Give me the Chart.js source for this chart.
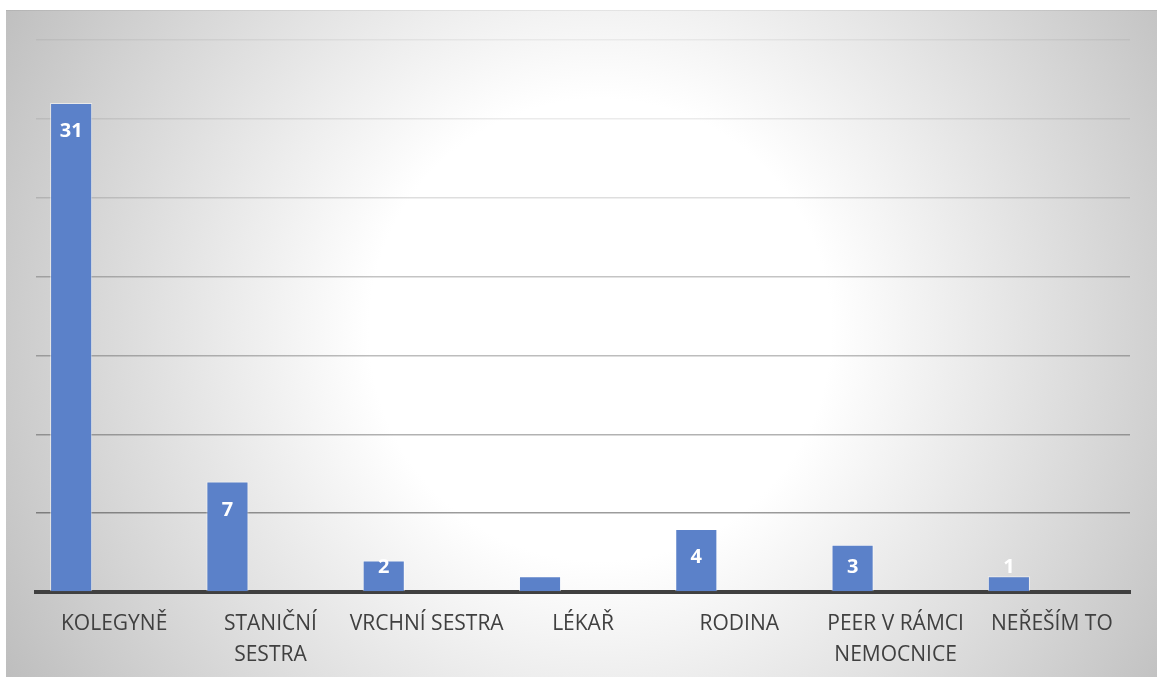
<!DOCTYPE html>
<html lang="cs">
<head>
<meta charset="utf-8">
<title>Komu se svěříte</title>
<script src="https://cdn.jsdelivr.net/npm/chart.js@4/dist/chart.umd.min.js"></script>
<style>
  html, body { margin: 0; padding: 0; background: #ffffff; }
  #wrap { width: 1157px; height: 677px; position: relative; }
</style>
</head>
<body>
<div id="wrap"><canvas id="chart"></canvas></div>
<script>
// Categories (multi-line labels are split into arrays)
const categories = [
  'KOLEGYNĚ',
  ['STANIČNÍ', 'SESTRA'],
  'VRCHNÍ SESTRA',
  'LÉKAŘ',
  'RODINA',
  ['PEER V RÁMCI', 'NEMOCNICE'],
  'NEŘEŠÍM TO'
];
// Number of answers per category
const answers = [31, 7, 2, 1, 4, 3, 1];
// Whether a value label is printed on the bar
const showValue = [true, true, true, false, true, true, true];
// Empty companion series (keeps the bars in the left half of each slot)
const emptySeries = [null, null, null, null, null, null, null];
// Value axis range and gridline step
const yMax = 35;
const yStep = 5;

// Gridline shade per value (darker toward the baseline)
const gridAlpha = { 0: 0, 5: 0.39, 10: 0.30, 15: 0.26, 20: 0.23, 25: 0.13, 30: 0.08, 35: 0.05 };

const FONT = '"Open Sans", "DejaVu Sans", sans-serif';

// Chart background: white page with a radially shaded plot frame
const backgroundPlugin = {
  id: 'frameBackground',
  beforeDraw(chart) {
    const ctx = chart.ctx;
    const w = chart.width, h = chart.height;
    ctx.save();
    ctx.fillStyle = '#ffffff';
    ctx.fillRect(0, 0, w, h);
    const g = ctx.createRadialGradient(600, 330, 0, 600, 330, 700);
    g.addColorStop(0, '#ffffff');
    g.addColorStop(0.33, '#ffffff');
    g.addColorStop(1, '#bcbcbc');
    ctx.fillStyle = g;
    ctx.fillRect(6, 10, w - 6, h - 10);
    ctx.fillStyle = 'rgba(0,0,0,0.06)';
    ctx.fillRect(6, 10, w - 6, 1);
    ctx.restore();
  }
};

// White bold value labels near the top end of each bar
const valueLabelPlugin = {
  id: 'valueLabels',
  afterDraw(chart) {
    const ctx = chart.ctx;
    const meta = chart.getDatasetMeta(0);
    const base = chart.scales.y.getPixelForValue(0);
    ctx.save();
    ctx.font = 'bold 20px ' + FONT;
    ctx.fillStyle = '#ffffff';
    ctx.textAlign = 'center';
    ctx.textBaseline = 'alphabetic';
    meta.data.forEach((bar, i) => {
      if (!showValue[i]) return;
      const y = Math.min(bar.y + 34, base - 19);
      ctx.fillText(String(answers[i]), bar.x, y);
    });
    ctx.restore();
  }
};

new Chart(document.getElementById('chart'), {
  type: 'bar',
  data: {
    labels: categories,
    datasets: [
      {
        data: answers,
        backgroundColor: '#5b81c9',
        borderColor: 'rgba(255,255,255,0.55)',
        borderWidth: 1,
        categoryPercentage: 1.1,
        barPercentage: 0.49
      },
      {
        data: emptySeries,
        backgroundColor: '#ed7d31',
        categoryPercentage: 1.1,
        barPercentage: 0.49
      }
    ]
  },
  options: {
    responsive: true,
    maintainAspectRatio: false,
    animation: false,
    devicePixelRatio: 1,
    layout: { padding: { left: 0, right: 27, top: 40, bottom: 0 } },
    plugins: {
      legend: { display: false },
      tooltip: { enabled: false },
      title: { display: false }
    },
    scales: {
      x: {
        z: 1,
        grid: { display: false, drawTicks: false },
        border: { display: true, color: '#404040', width: 4 },
        ticks: {
          color: '#404040',
          font: { family: FONT, size: 21, lineHeight: 1.45 },
          padding: 17,
          maxRotation: 0,
          autoSkip: false
        },
        afterFit(scale) { scale.height = 85; }
      },
      y: {
        z: 1,
        min: 0,
        max: yMax,
        ticks: { display: false, stepSize: yStep },
        border: { display: false },
        grid: {
          drawTicks: false,
          lineWidth: 1.5,
          color(ctx) {
            const v = ctx.tick ? ctx.tick.value : 0;
            const a = gridAlpha[v] !== undefined ? gridAlpha[v] : 0.2;
            return 'rgba(0,0,0,' + a + ')';
          }
        },
        afterFit(scale) { scale.width = 36; }
      }
    }
  },
  plugins: [backgroundPlugin, valueLabelPlugin]
});
</script>
</body>
</html>
